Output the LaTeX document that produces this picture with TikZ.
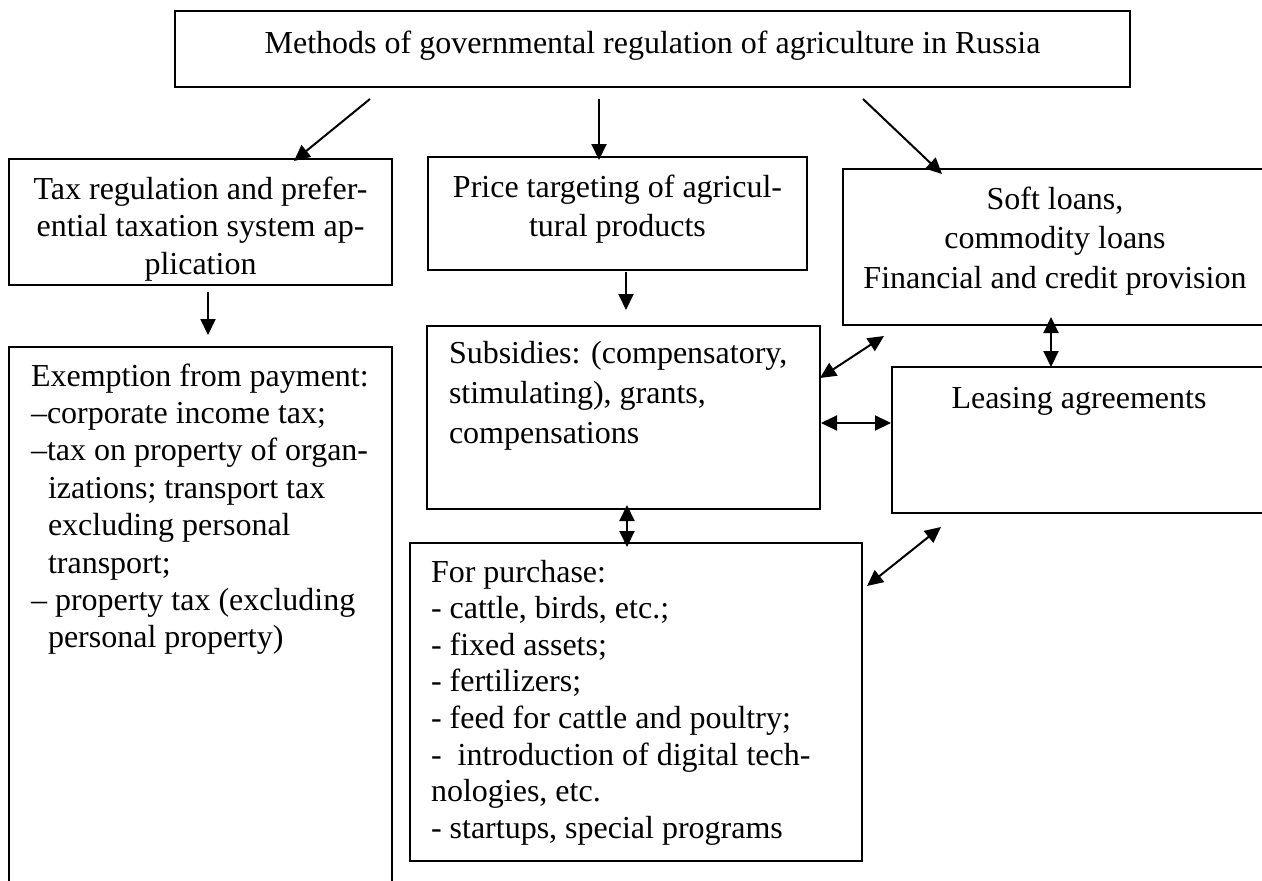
\documentclass[tikz,border=0pt]{standalone}
\usepackage{fontspec}
\setmainfont{Liberation Serif}
\usetikzlibrary{arrows.meta}
\begin{document}
\begin{tikzpicture}[x=1pt,y=-1pt,
  box/.style={draw, line width=2pt, inner sep=0pt, outer sep=0pt, anchor=north west},
  txt/.style={inner sep=0pt, outer sep=0pt, font=\fontsize{32}{36.8}\selectfont},
  arr/.style={line width=2pt, -{Triangle[length=16pt,width=15pt]}},
  darr/.style={line width=2pt, {Triangle[length=16pt,width=15pt]}-{Triangle[length=16pt,width=15pt]}}]
\useasboundingbox (0,0) rectangle (1262,881);

% boxes
\node[box, minimum width=955pt, minimum height=76pt]  (top)      at (175,11)  {};
\node[box, minimum width=383pt, minimum height=126pt] (tax)      at (9,159)   {};
\node[box, minimum width=379pt, minimum height=113pt] (price)    at (428,157) {};
\node[box, minimum width=427pt, minimum height=156pt] (soft)     at (843,169) {};
\node[box, minimum width=383pt, minimum height=560pt] (exempt)   at (9,347)   {};
\node[box, minimum width=393pt, minimum height=183pt] (subs)     at (427,326) {};
\node[box, minimum width=380pt, minimum height=146pt] (leasing)  at (892,367) {};
\node[box, minimum width=452pt, minimum height=318pt] (purchase) at (410,543) {};

% texts
\node[txt, anchor=base] (toptxt) at (652.5,53)
  {Methods of governmental regulation of agriculture in Russia};
\node[txt, anchor=base, font=\fontsize{32}{37.5}\selectfont] (taxtxt) at (200.5,199)
  {\begin{tabular}[t]{@{}c@{}}Tax regulation and prefer-\\ ential taxation system ap-\\ plication\end{tabular}};
\node[txt, anchor=base, font=\fontsize{32}{39.3}\selectfont] (pricetxt) at (617.5,197)
  {\begin{tabular}[t]{@{}c@{}}Price targeting of agricul-\\ tural products\end{tabular}};
\node[txt, anchor=base, font=\fontsize{32}{39.5}\selectfont] (softtxt) at (1055,209)
  {\begin{tabular}[t]{@{}c@{}}Soft loans,\\ commodity loans\\ Financial and credit provision\end{tabular}};
\node[txt, anchor=base] (leasingtxt) at (1079,408) {Leasing agreements};
\node[txt, anchor=base west, font=\fontsize{32}{40}\selectfont] (substxt) at (449,363)
  {\begin{tabular}[t]{@{}l@{}}Subsidies: (compensatory,\\ stimulating), grants,\\ compensations\end{tabular}};
\node[txt, anchor=base west, font=\fontsize{32}{37.4}\selectfont] (exempttxt) at (31,386)
  {\begin{tabular}[t]{@{}l@{}}Exemption from payment:\\
   –corporate income tax;\\
   –tax on property of organ-\\
   \hspace*{17pt}izations; transport tax\\
   \hspace*{17pt}excluding personal\\
   \hspace*{17pt}transport;\\
   – property tax (excluding\\
   \hspace*{17pt}personal property)\end{tabular}};
\node[txt, anchor=base west, font=\fontsize{32}{36.6}\selectfont] (purchasetxt) at (431,582)
  {\begin{tabular}[t]{@{}l@{}}For purchase:\\
   - cattle, birds, etc.;\\
   - fixed assets;\\
   - fertilizers;\\
   - feed for cattle and poultry;\\
   -~~introduction of digital tech-\\
   nologies, etc.\\
   - startups, special programs\end{tabular}};

% connector end points
\coordinate (t1) at (370,99);   \coordinate (taxin) at (294,161);
\coordinate (t2) at (599,99);   \coordinate (pricein) at (599,160);
\coordinate (t3) at (863,99);   \coordinate (softin) at (942,174);
\coordinate (taxout) at (208,292);  \coordinate (exemptin) at (208,335);
\coordinate (priceout) at (626,272); \coordinate (subsin) at (626,310);
\coordinate (subsA) at (820,378);  \coordinate (softA) at (884,336);
\coordinate (softB) at (1051,317); \coordinate (leasB) at (1051,367);
\coordinate (subsC) at (821,423);  \coordinate (leasC) at (891,423);
\coordinate (subsD) at (627,505);  \coordinate (purD) at (627,547);
\coordinate (purE) at (867,586);   \coordinate (leasE) at (941,527);

% connectors
\draw[arr] (t1) -- (taxin);
\draw[arr] (t2) -- (pricein);
\draw[arr] (t3) -- (softin);
\draw[arr] (taxout) -- (exemptin);
\draw[arr] (priceout) -- (subsin);
\draw[darr] (subsA) -- (softA);
\draw[darr] (softB) -- (leasB);
\draw[darr] (subsC) -- (leasC);
\draw[darr] (subsD) -- (purD);
\draw[darr] (purE) -- (leasE);
\end{tikzpicture}
\end{document}
